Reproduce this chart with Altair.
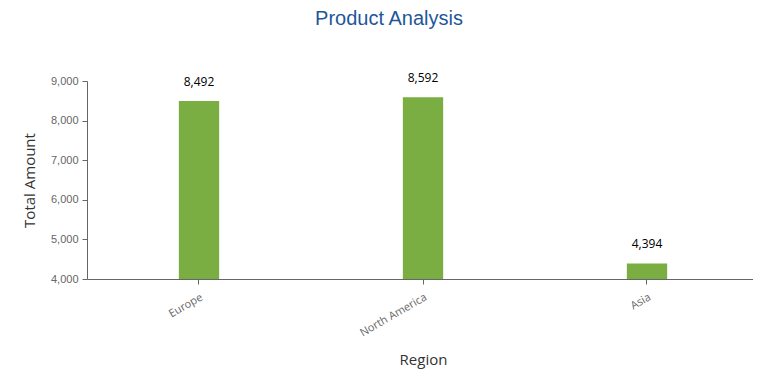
import altair as alt
import pandas as pd

regions = ["Europe", "North America", "Asia"]
totals = [8492, 8592, 4394]

df = pd.DataFrame({"Region": regions, "Total": totals})

yaxis = alt.Axis(values=[4000, 5000, 6000, 7000, 8000, 9000], format=",.0f",
                 grid=False, labelFont="Liberation Sans", labelFontSize=11,
                 labelColor="#666666", labelPadding=4, tickSize=5, tickColor="#666666",
                 domainColor="#666666", titleFont="Open Sans", titleFontSize=15,
                 titleFontWeight="normal", titleColor="#333333", titlePadding=13)

base = alt.Chart(df).encode(
    x=alt.X("Region:N", sort=regions, title="Region",
            scale=alt.Scale(paddingInner=0.82, paddingOuter=0.41, range=[0, 672]),
            axis=alt.Axis(labelAngle=-30, labelAlign="right", labelBaseline="top",
                          labelFont="Open Sans", labelFontSize=11, labelColor="#666666",
                          labelPadding=7, tickSize=5, tickColor="#666666",
                          domainColor="#666666", titleFont="Open Sans",
                          titleFontSize=15, titleFontWeight="normal", titleColor="#333333",
                          titlePadding=15, titleX=336)),
    y=alt.Y("Total:Q", title="Total Amount",
            scale=alt.Scale(domain=[4000, 9000], zero=False, nice=False),
            axis=yaxis),
)

bars = base.mark_bar(color="#7aae42").encode(
    y2=alt.datum(4000),
)

labels = base.mark_text(font="Open Sans", fontSize=12, color="#000000", dy=-19,
                        baseline="middle").encode(
    text=alt.Text("Total:Q", format=","),
)

chart = (bars + labels).properties(
    width=666, height=198,
    padding={"left": 79, "top": 73, "right": 0, "bottom": 90},
    autosize="none",
    title=alt.TitleParams("Product Analysis", font="Liberation Sans", fontSize=20,
                          fontWeight="normal", color="#1f569a", anchor="middle",
                          dx=-31, offset=43),
).configure_view(stroke=None)

chart.save("out.html", embed_options={"renderer": "svg", "actions": False})
